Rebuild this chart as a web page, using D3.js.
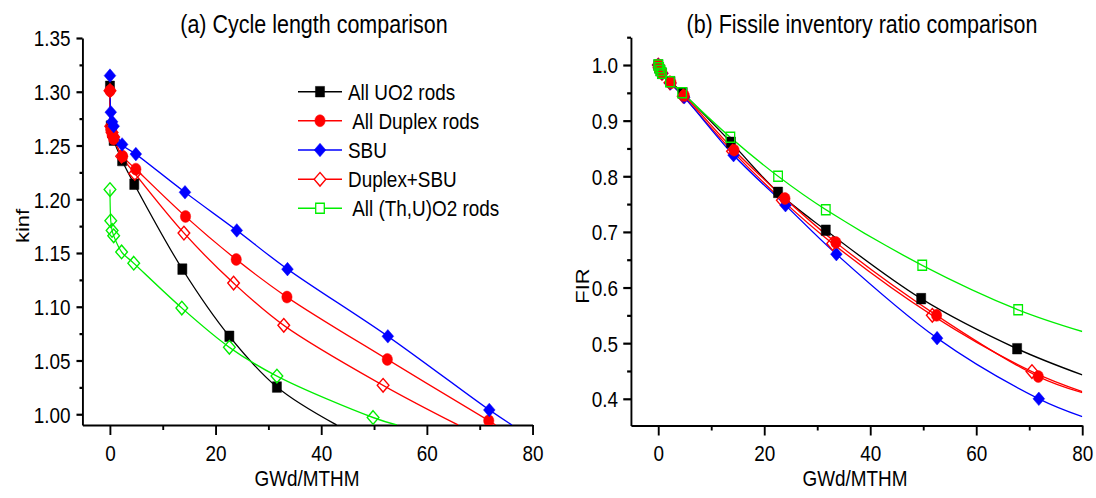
<!DOCTYPE html>
<meta charset="utf-8">
<script src="https://d3js.org/d3.v7.min.js"></script>
<style>
  body { margin: 0; background: #fff; }
  text { font-family: "Liberation Sans", Arial, sans-serif; fill: #000; }
</style>
<body>
<svg id="chart" width="1096" height="498"></svg>
<script>
// legend labels, in legend order
var seriesNames = ["All UO2 rods", " All Duplex rods", "SBU", "Duplex+SBU", " All (Th,U)O2 rods"];

// burnup steps (GWd/MTHM) of each case
var burnupUO2    = [0, 0.15, 0.4, 0.7, 2.3, 4.6, 13.7, 22.6, 31.6, 49.6, 67.7];
var burnupDuplex = [0, 0.15, 0.4, 0.7, 2.4, 4.9, 14.3, 23.9, 33.5, 52.5, 71.7];
var burnupSBU    = [0, 0.15, 0.4, 0.7, 2.3, 4.9, 14.2, 24.0, 33.6, 52.6, 71.8];
var burnupDupSBU = [0, 0.15, 0.4, 0.7, 2.2, 4.7, 14.0, 23.4, 32.9, 51.7, 70.5];
var burnupThU    = [0, 0.15, 0.4, 0.7, 2.2, 4.5, 13.6, 22.6, 31.6, 49.8, 67.9];

// (a) kinf, null = below the plotted range
var kinfUO2    = [1.305, 1.268, 1.262, 1.255, 1.236, 1.214, 1.135, 1.0725, 1.0253, null, null];
var kinfDuplex = [1.301, 1.265, 1.260, 1.256, 1.240, 1.228, 1.184, 1.144, 1.109, 1.051, 0.994];
var kinfSBU    = [1.315, 1.281, 1.272, 1.268, 1.251, 1.242, 1.2065, 1.171, 1.135, 1.0725, 1.004];
var kinfDupSBU = [1.301, 1.268, 1.262, 1.258, 1.240, 1.224, 1.1685, 1.122, 1.0827, 1.0269, null];
var kinfThU    = [1.209, 1.180, 1.171, 1.166, 1.151, 1.1405, 1.0988, 1.0623, 1.0355, 0.997, null];

// (b) fissile inventory ratio
var firUO2    = [1.0, 0.995, 0.99, 0.985, 0.970, 0.950, 0.861, 0.771, 0.703, 0.580, 0.490];
var firDuplex = [1.0, 0.995, 0.99, 0.985, 0.968, 0.945, 0.847, 0.760, 0.681, 0.550, 0.440];
var firSBU    = [1.0, 0.995, 0.99, 0.985, 0.967, 0.942, 0.838, 0.748, 0.660, 0.509, 0.400];
var firDupSBU = [1.0, 0.995, 0.99, 0.985, 0.968, 0.944, 0.845, 0.757, 0.679, 0.550, 0.449];
var firThU    = [1.0, 0.995, 0.99, 0.985, 0.970, 0.950, 0.870, 0.800, 0.740, 0.640, 0.560];

// where each fitted curve leaves the plot [burnup, value]
var kinfCurveEnd = [[42.9, 0.99], [73.0, 0.99], [76.1, 0.99], [65.9, 0.99], [54.3, 0.99]];
var firCurveEnd  = [[80, 0.443], [80, 0.411], [80, 0.368], [80, 0.413], [80, 0.521]];

// tick values
var xTicks = [0, 20, 40, 60, 80], xMinor = [10, 30, 50, 70];
var kinfTicks = [1.00, 1.05, 1.10, 1.15, 1.20, 1.25, 1.30, 1.35];
var kinfMinor = [1.025, 1.075, 1.125, 1.175, 1.225, 1.275, 1.325];
var firTicks = [0.4, 0.5, 0.6, 0.7, 0.8, 0.9, 1.0];
var firMinor = [0.45, 0.55, 0.65, 0.75, 0.85, 0.95, 1.05];

// look of each case (same order as the legend)
var looks = [
  {color: "#000000", shape: "square",  filled: true},
  {color: "#ff0000", shape: "circle",  filled: true},
  {color: "#0000ff", shape: "diamond", filled: true},
  {color: "#ff0000", shape: "diamond", filled: false},
  {color: "#00ee00", shape: "diamond", filled: false}
];

// the original picture is squeezed sideways, so everything is drawn in a wider
// space and scaled back
var SX = 0.86;
function lx(p) { return p / SX; }

var svg = d3.select("#chart");
var root = svg.append("g").attr("transform", "scale(" + SX + ",1)");
var defs = svg.append("defs");

function markerPath(shape, s) {
  if (shape === "square") return "M" + (-s) + "," + (-s) + "H" + s + "V" + s + "H" + (-s) + "Z";
  if (shape === "diamond") return "M0," + (-s) + "L" + s + ",0L0," + s + "L" + (-s) + ",0Z";
  return d3.symbol().type(d3.symbolCircle).size(Math.PI * s * s)();
}
function markerSize(shape, filled) {
  if (shape === "square") return filled ? 5.3 : 5;
  if (shape === "diamond") return 6.8;
  return 6;
}

function drawPanel(cfg) {
  var g = root.append("g");
  var x = cfg.x, y = cfg.y;
  var clipId = "clip" + cfg.id;
  defs.append("clipPath").attr("id", clipId)
    .append("rect")
    .attr("x", x.range()[0] * SX).attr("y", y.range()[1] - 10)
    .attr("width", (x.range()[1] - x.range()[0]) * SX).attr("height", y.range()[0] - y.range()[1] + 10);

  // axes
  var xa = g.append("g").attr("transform", "translate(0," + y.range()[0] + ")");
  xa.call(d3.axisBottom(x).tickValues(xTicks).tickSize(10).tickSizeOuter(0).tickPadding(10).tickFormat(d3.format("d")));
  xa.append("g").call(d3.axisBottom(x).tickValues(xMinor).tickSize(5).tickFormat("")).select(".domain").remove();

  var ya = g.append("g").attr("transform", "translate(" + x.range()[0] + ",0)");
  ya.call(d3.axisLeft(y).tickValues(cfg.ticks).tickSize(cfg.tick).tickSizeOuter(0).tickPadding(cfg.pad).tickFormat(d3.format(cfg.fmt)));
  ya.append("g").call(d3.axisLeft(y).tickValues(cfg.minor).tickSize(cfg.tick / 2).tickFormat("")).select(".domain").remove();

  g.selectAll(".domain").attr("stroke", "#000").attr("stroke-width", 2.2);
  g.selectAll(".tick line").attr("stroke", "#000").attr("stroke-width", 2.2);
  g.selectAll(".tick text").style("font-size", "22px").attr("fill", "#000");
  ya.selectAll(".tick text").attr("dy", "0.36em");

  // curves and markers
  var line = d3.line().x(function(d) { return x(d[0]); }).y(function(d) { return y(d[1]); })
    .curve(d3.curveCatmullRom.alpha(0.5));
  var plot = root.append("g").attr("clip-path", "url(#" + clipId + ")");
  var plotInner = plot.append("g");

  cfg.order.forEach(function(i) {
    var look = looks[i];
    var pts = cfg.burnup[i].map(function(b, k) { return [b, cfg.values[i][k]]; })
      .filter(function(d) { return d[1] !== null; });
    plotInner.append("path")
      .attr("d", line(pts.concat([cfg.ends[i]])))
      .attr("fill", "none").attr("stroke", look.color).attr("stroke-width", 1.4);
  });
  cfg.order.forEach(function(i) {
    var look = looks[i];
    var shape = cfg.shapes ? cfg.shapes[i] : look.shape;
    var pts = cfg.burnup[i].map(function(b, k) { return [b, cfg.values[i][k]]; })
      .filter(function(d) { return d[1] !== null; });
    plotInner.selectAll(null).data(pts).enter().append("path")
      .attr("transform", function(d) { return "translate(" + x(d[0]) + "," + y(d[1]) + ")"; })
      .attr("d", markerPath(shape, markerSize(shape, look.filled)))
      .attr("fill", look.filled ? look.color : "#fff")
      .attr("fill-opacity", look.filled ? 1 : 0)
      .attr("stroke", look.color).attr("stroke-width", look.filled ? 0.5 : 1.5);
  });
  // clip path is in screen pixels, so undo the squeeze for its contents
  plot.attr("transform", "scale(" + (1 / SX) + ",1)");
  plotInner.attr("transform", "scale(" + SX + ",1)");

  // titles
  root.append("text").attr("x", lx(cfg.titleX)).attr("y", 33)
    .attr("text-anchor", "middle").style("font-size", "25px").text(cfg.title);
  root.append("text").attr("x", lx(cfg.titleX - 7)).attr("y", 478).attr("dy", "0.35em")
    .attr("text-anchor", "middle").style("font-size", "22px").text("GWd/MTHM");
  root.append("text")
    .attr("transform", "translate(" + lx(cfg.yLabelX) + "," + cfg.yLabelY + ") rotate(-90)")
    .attr("dy", "0.35em").attr("text-anchor", "middle").style("font-size", "22px").text(cfg.yLabel);
}

var xA = d3.scaleLinear().domain([-5.2, 80]).range([lx(82.5), lx(532.6)]);
var yA = d3.scaleLinear().domain([0.99, 1.35]).range([425, 38]);
var xB = d3.scaleLinear().domain([-5.15, 80]).range([lx(631), lx(1082.3)]);
var yB = d3.scaleLinear().domain([0.352, 1.05]).range([425.5, 37.2]);

var burnups = [burnupUO2, burnupDuplex, burnupSBU, burnupDupSBU, burnupThU];

drawPanel({
  id: "A", x: xA, y: yA, burnup: burnups,
  values: [kinfUO2, kinfDuplex, kinfSBU, kinfDupSBU, kinfThU],
  ends: kinfCurveEnd, order: [0, 3, 1, 2, 4],
  ticks: kinfTicks, minor: kinfMinor, tick: 7, pad: 7, fmt: ".2f",
  title: "(a) Cycle length comparison", titleX: 314,
  yLabel: "kinf", yLabelX: 22, yLabelY: 226
});
drawPanel({
  id: "B", x: xB, y: yB, burnup: burnups,
  values: [firUO2, firDuplex, firSBU, firDupSBU, firThU],
  ends: firCurveEnd, order: [0, 3, 2, 1, 4],
  shapes: ["square", "circle", "diamond", "diamond", "square"],
  ticks: firTicks, minor: firMinor, tick: 9, pad: 6, fmt: ".1f",
  title: "(b) Fissile inventory ratio comparison", titleX: 862,
  yLabel: "FIR", yLabelX: 582, yLabelY: 286
});

// legend (left panel)
var legendRowY = [91.7, 120.7, 150, 179.3, 208.3];
var legendShapes = ["square", "circle", "diamond", "diamond", "square"];
var lg = root.append("g");
seriesNames.forEach(function(name, i) {
  var look = looks[i];
  var ry = legendRowY[i];
  lg.append("line").attr("x1", lx(298)).attr("x2", lx(342)).attr("y1", ry).attr("y2", ry)
    .attr("stroke", look.color).attr("stroke-width", 1.4);
  lg.append("path").attr("transform", "translate(" + lx(320) + "," + ry + ")")
    .attr("d", markerPath(legendShapes[i], markerSize(legendShapes[i], look.filled)))
    .attr("fill", look.filled ? look.color : "#fff")
    .attr("stroke", look.color).attr("stroke-width", look.filled ? 0.5 : 1.5);
  lg.append("text").attr("x", lx(348)).attr("y", ry).attr("dy", "0.36em")
    .style("font-size", "22px").style("white-space", "pre").text(name);
});
</script>
</body>
